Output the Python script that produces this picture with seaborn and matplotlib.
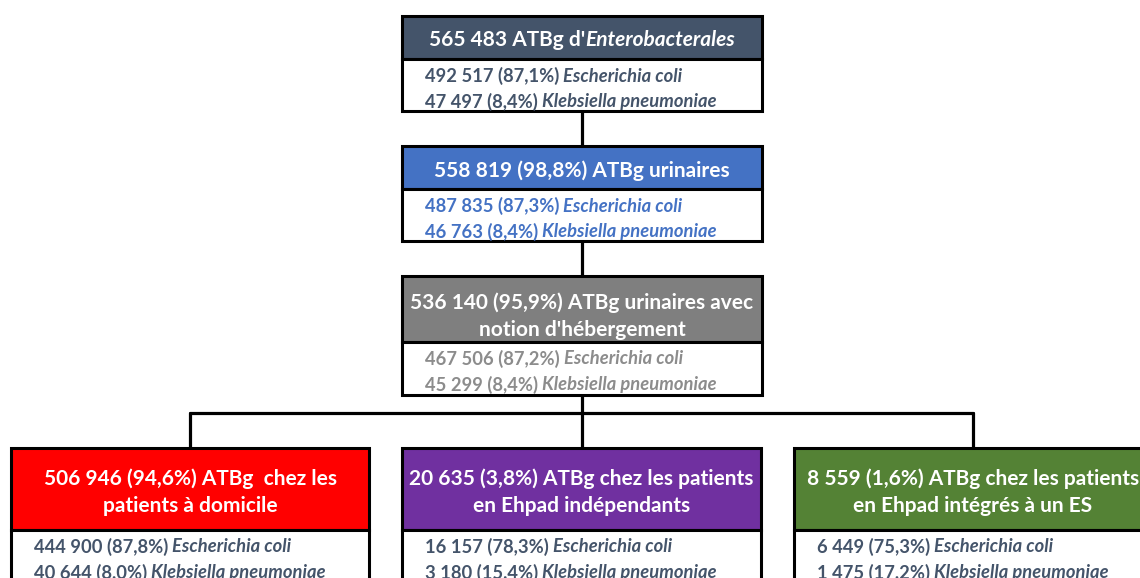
import matplotlib
matplotlib.use("Agg")
import matplotlib.pyplot as plt
from matplotlib.patches import Rectangle
import seaborn as sns
import pandas as pd

# ---------------- data ----------------
header_lines = [
    [[("565 483 ATBg d'", "normal"), ("Enterobacterales", "italic")]],
    [[("558 819 (98,8%) ATBg urinaires", "normal")]],
    [[("536 140 (95,9%) ATBg urinaires avec", "normal")], [("notion d'hébergement", "normal")]],
    [[("506 946 (94,6%) ATBg  chez les", "normal")], [("patients à domicile", "normal")]],
    [[("20 635 (3,8%) ATBg chez les patients", "normal")], [("en Ehpad indépendants", "normal")]],
    [[("8 559 (1,6%) ATBg chez les patients", "normal")], [("en Ehpad intégrés à un ES", "normal")]],
]
ecoli_n = ["492 517", "487 835", "467 506", "444 900", "16 157", "6 449"]
ecoli_pct = ["87,1%", "87,3%", "87,2%", "87,8%", "78,3%", "75,3%"]
kpn_n = ["47 497", "46 763", "45 299", "40 644", "3 180", "1 475"]
kpn_pct = ["8,4%", "8,4%", "8,4%", "8,0%", "15,4%", "17,2%"]
species = ["Escherichia coli", "Klebsiella pneumoniae"]

header_colors = ["#44546A", "#4472C4", "#7F7F7F", "#FF0000", "#7030A0", "#548235"]
body_colors = ["#44546A", "#4472C4", "#8C8C8C", "#44546A", "#44546A", "#44546A"]

# ---------------- layout (pixels) ----------------
W, H = 1140, 578
# (x0, x1, top, header_bottom, bottom)
boxes = [
    (402, 762, 16, 59, 111),
    (402, 762, 146, 189, 241),
    (402, 762, 276, 342, 395),
    (11, 369, 448, 530, 600),
    (402, 761, 448, 530, 600),
    (794, 1152, 448, 530, 600),
]
# header text line offsets from box top
head_offsets = [[24.5], [24.5], [26.5, 54.5], [30.5, 58.5], [30.5, 58.5], [30.5, 58.5]]

sns.set_theme(style="white")
plt.rcParams["font.family"] = ["Lato", "DejaVu Sans"]

fig = plt.figure(figsize=(W / 100, H / 100), dpi=100)
ax = fig.add_axes([0, 0, 1, 1])

# connectors with seaborn
segs = [
    (582, 111, 582, 146),
    (582, 241, 582, 276),
    (582, 395, 582, 448),
    (190, 413, 973, 413),
    (190, 413, 190, 448),
    (973, 413, 973, 448),
]
rows = []
for i, (xa, ya, xb, yb) in enumerate(segs):
    rows.append({"seg": i, "x": xa, "y": ya})
    rows.append({"seg": i, "x": xb, "y": yb})
df = pd.DataFrame(rows)
sns.lineplot(data=df, x="x", y="y", units="seg", estimator=None, sort=False,
             color="black", linewidth=2.3, ax=ax, legend=False)
ax.set_xlim(0, W)
ax.set_ylim(H, 0)
ax.axis("off")

renderer = fig.canvas.get_renderer()

HEAD_FS = 15.0
BODY_FS = 13.2


def width_of(s, fs, style):
    t = ax.text(0, 0, s, fontsize=fs, fontweight="bold", fontstyle=style)
    w = t.get_window_extent(renderer).width
    t.remove()
    return w


def draw_runs(x, y, runs, fs, color, center=False):
    widths = [width_of(s, fs, st) for s, st in runs]
    total = sum(widths)
    if center:
        x = x - total / 2
    for (s, st), w in zip(runs, widths):
        ax.text(x, y, s, fontsize=fs, fontweight="bold", fontstyle=st,
                color=color, ha="left", va="center")
        x += w


for i, (x0, x1, top, hb, bot) in enumerate(boxes):
    ax.add_patch(Rectangle((x0, top), x1 - x0, hb - top, facecolor=header_colors[i],
                           edgecolor="black", linewidth=2.2, zorder=2))
    ax.add_patch(Rectangle((x0, hb), x1 - x0, bot - hb, facecolor="white",
                           edgecolor="black", linewidth=2.2, zorder=2))
    cx = (x0 + x1) / 2
    for ln, off in zip(header_lines[i], head_offsets[i]):
        draw_runs(cx, top + off, ln, HEAD_FS, "white", center=True)
    tx = x0 + 23
    r1 = [(f"{ecoli_n[i]} ({ecoli_pct[i]})", "normal"), (" " + species[0], "italic")]
    r2 = [(f"{kpn_n[i]} ({kpn_pct[i]})", "normal"), (" " + species[1], "italic")]
    draw_runs(tx, hb + 17, r1, BODY_FS, body_colors[i])
    draw_runs(tx, hb + 42.5, r2, BODY_FS, body_colors[i])

fig.savefig("out.png", dpi=100)
